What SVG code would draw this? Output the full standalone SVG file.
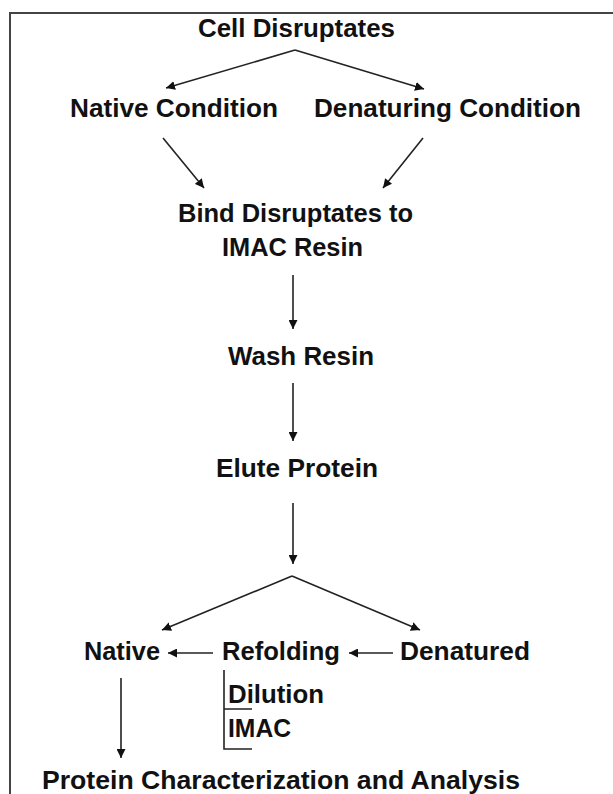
<svg xmlns="http://www.w3.org/2000/svg" width="613" height="794" viewBox="0 0 613 794">
<style>
.t{font-family:"Liberation Sans",Arial,sans-serif;font-weight:bold;font-size:25px;fill:#111}
.c{stroke:#222;stroke-width:1.6;fill:none}
</style>
<defs>
<marker id="ah" viewBox="0 0 10 10" refX="10" refY="5" markerWidth="9" markerHeight="9" markerUnits="userSpaceOnUse" orient="auto">
<path d="M0,0 L10,5 L0,10 z" fill="#111"/>
</marker>
</defs>
<rect x="0" y="0" width="613" height="794" fill="#fff"/>
<path d="M10 794 V13 H613" stroke="#444" stroke-width="2" fill="none"/>
<g id="connectors">
<path class="c" d="M295 50 L166 88" marker-end="url(#ah)"/>
<path class="c" d="M295 50 L424 89" marker-end="url(#ah)"/>
<path class="c" d="M163 138 L204 188" marker-end="url(#ah)"/>
<path class="c" d="M423 138 L383 188" marker-end="url(#ah)"/>
<path class="c" d="M293 275 V329" marker-end="url(#ah)"/>
<path class="c" d="M293 383 V441" marker-end="url(#ah)"/>
<path class="c" d="M293 503 V564" marker-end="url(#ah)"/>
<path class="c" d="M292 576 L162 630" marker-end="url(#ah)"/>
<path class="c" d="M292 576 L420 630" marker-end="url(#ah)"/>
<path class="c" d="M213 653 H168" marker-end="url(#ah)"/>
<path class="c" d="M393 653 H349" marker-end="url(#ah)"/>
<path class="c" d="M121 678 V758" marker-end="url(#ah)"/>
<path class="c" d="M224 670 V749 H252 M224 709 H252"/>
</g>
<g id="cell-disruptates"><text class="t" x="198" y="37" textLength="197" lengthAdjust="spacingAndGlyphs">Cell Disruptates</text></g>
<g id="native-condition"><text class="t" x="70" y="117" textLength="208" lengthAdjust="spacingAndGlyphs">Native Condition</text></g>
<g id="denaturing-condition"><text class="t" x="314" y="117" textLength="267" lengthAdjust="spacingAndGlyphs">Denaturing Condition</text></g>
<g id="bind"><text class="t" x="178" y="222" textLength="235" lengthAdjust="spacingAndGlyphs">Bind Disruptates to</text>
<text class="t" x="222" y="256" textLength="141" lengthAdjust="spacingAndGlyphs">IMAC Resin</text></g>
<g id="wash-resin"><text class="t" x="228" y="365" textLength="146" lengthAdjust="spacingAndGlyphs">Wash Resin</text></g>
<g id="elute-protein"><text class="t" x="216" y="477" textLength="162" lengthAdjust="spacingAndGlyphs">Elute Protein</text></g>
<g id="native"><text class="t" x="84" y="660" textLength="76" lengthAdjust="spacingAndGlyphs">Native</text></g>
<g id="refolding"><text class="t" x="222" y="660" textLength="118" lengthAdjust="spacingAndGlyphs">Refolding</text>
<text class="t" x="228" y="703" textLength="96" lengthAdjust="spacingAndGlyphs">Dilution</text>
<text class="t" x="228" y="737" textLength="63" lengthAdjust="spacingAndGlyphs">IMAC</text></g>
<g id="denatured"><text class="t" x="400" y="660" textLength="130" lengthAdjust="spacingAndGlyphs">Denatured</text></g>
<g id="analysis"><text class="t" x="42" y="789" textLength="478" lengthAdjust="spacingAndGlyphs">Protein Characterization and Analysis</text></g>
</svg>
